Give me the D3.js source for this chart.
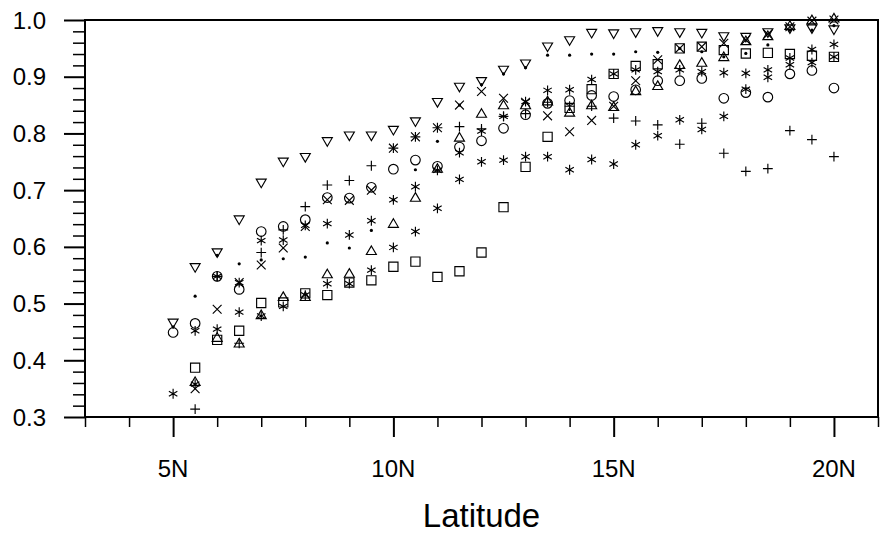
<!DOCTYPE html>
<html>
<head>
<meta charset="utf-8">
<script src="https://cdn.jsdelivr.net/npm/d3@7"></script>
<style>
  html, body { margin: 0; padding: 0; background: #fff; }
  svg { display: block; }
  text { font-family: "Liberation Sans", Arial, Helvetica, sans-serif; fill: #000; }
</style>
</head>
<body>
<svg id="chart" width="882" height="534"></svg>
<script>
// ---------------- data ----------------
const latitudes = [5,5.5,6,6.5,7,7.5,8,8.5,9,9.5,10,10.5,11,11.5,12,12.5,13,13.5,14,14.5,15,15.5,16,16.5,17,17.5,18,18.5,19,19.5,20];

const triDown = [0.466,0.564,0.590,0.648,0.713,0.750,0.758,0.786,0.796,0.796,0.806,0.821,0.855,0.882,0.892,0.912,0.923,0.953,0.964,0.977,0.976,0.978,0.980,0.978,0.977,0.971,0.970,0.978,0.985,0.985,0.983];
const dots    = [0.459,0.513,0.585,0.570,0.577,0.579,0.582,0.607,0.598,0.629,0.683,0.736,0.786,0.850,0.886,0.905,0.916,0.938,0.938,0.940,0.940,0.944,0.943,0.950,0.944,0.935,0.941,0.956,0.982,0.982,0.990];
const plusS   = [null,0.314,0.548,0.430,0.590,0.630,0.671,0.709,0.717,0.743,0.774,0.794,0.810,0.812,0.808,0.830,0.835,0.855,0.848,0.848,0.827,0.822,0.815,0.781,0.818,0.765,0.733,0.738,0.805,0.789,0.759];
const crossS  = [null,0.350,0.490,0.537,0.568,0.598,0.636,0.683,0.682,0.700,0.774,0.794,0.810,0.850,0.874,0.862,0.855,0.831,0.803,0.823,0.848,0.893,0.930,0.950,0.953,0.959,0.965,0.975,0.988,0.998,1.000];
const asterA  = [null,0.452,0.548,0.537,0.611,0.612,0.638,0.641,0.621,0.646,0.683,0.706,0.735,0.766,0.804,0.830,0.856,0.876,0.877,0.895,0.905,0.912,0.909,0.912,0.909,0.907,0.906,0.912,0.933,0.948,0.957];
const asterB  = [0.341,0.358,0.455,0.485,0.478,0.495,0.515,0.535,0.535,0.559,0.599,0.627,0.668,0.719,0.750,0.753,0.759,0.759,0.736,0.754,0.746,0.780,0.796,0.824,0.807,0.830,0.878,0.899,0.921,0.925,0.935];
const circleS = [0.449,0.465,0.548,0.525,0.627,0.636,0.648,0.687,0.686,0.705,0.737,0.753,0.742,0.776,0.787,0.809,0.833,0.853,0.858,0.867,0.865,0.877,0.893,0.893,0.897,0.862,0.872,0.864,0.905,0.911,0.880];
const triUp   = [null,0.362,0.440,0.430,0.480,0.512,0.512,0.552,0.553,0.593,0.641,0.687,0.738,0.793,0.835,0.850,0.850,0.857,0.837,0.850,0.847,0.875,0.884,0.921,0.925,0.935,0.963,0.972,0.990,1.000,1.003];
const squareS = [null,0.387,0.436,0.452,0.501,0.502,0.518,0.515,0.537,0.541,0.565,0.574,0.547,0.557,0.590,0.670,0.741,0.794,0.845,0.878,0.905,0.919,0.922,0.950,0.953,0.947,0.941,0.942,0.940,0.937,0.935];

const xMajorTicks = [5,10,15,20];
const xMinorTicks = [3,4,6,7,8,9,11,12,13,14,16,17,18,19,21];
const yMajorTicks = [0.3,0.4,0.5,0.6,0.7,0.8,0.9,1.0];
const yMinorTicks = d3.range(0.32, 0.999, 0.02).filter(v => Math.abs(v*10 - Math.round(v*10)) > 1e-6);
const xLabel = "Latitude";

const seriesList = [
  {type: "triDown", values: triDown},
  {type: "dot",     values: dots},
  {type: "plus",    values: plusS},
  {type: "cross",   values: crossS},
  {type: "aster",   values: asterA},
  {type: "aster",   values: asterB},
  {type: "circle",  values: circleS},
  {type: "triUp",   values: triUp},
  {type: "square",  values: squareS}
];

// ---------------- layout ----------------
const svg = d3.select("#chart");
const x = d3.scaleLinear().domain([3, 21]).range([85, 878]);
const y = d3.scaleLinear().domain([0.3, 1.0]).range([417, 20]);

function markerPath(type) {
  const p = d3.path();
  if (type === "circle") { p.moveTo(4.8, 0); p.arc(0, 0, 4.8, 0, 2*Math.PI); }
  else if (type === "square") { p.rect(-4.6, -4.6, 9.2, 9.2); }
  else if (type === "triUp") { p.moveTo(0, -4.9); p.lineTo(5.0, 3.7); p.lineTo(-5.0, 3.7); p.closePath(); }
  else if (type === "triDown") { p.moveTo(0, 4.9); p.lineTo(5.0, -3.7); p.lineTo(-5.0, -3.7); p.closePath(); }
  else if (type === "plus") { p.moveTo(-4.9, 0); p.lineTo(4.9, 0); p.moveTo(0, -4.9); p.lineTo(0, 4.9); }
  else if (type === "cross") { p.moveTo(-4.4, -4.4); p.lineTo(4.4, 4.4); p.moveTo(-4.4, 4.4); p.lineTo(4.4, -4.4); }
  else if (type === "aster") {
    const r = 4.9;
    for (const a of [90, 30, 150]) {
      const t = a * Math.PI / 180;
      p.moveTo(r*Math.cos(t), -r*Math.sin(t));
      p.lineTo(-r*Math.cos(t), r*Math.sin(t));
    }
  }
  return p.toString();
}

// ---------------- markers ----------------
const gMarks = svg.append("g");
seriesList.forEach(s => {
  const pts = latitudes.map((lat, i) => ({lat, v: s.values[i]})).filter(d => d.v != null);
  if (s.type === "dot") {
    gMarks.append("g").selectAll("circle").data(pts).join("circle")
      .attr("cx", d => x(d.lat)).attr("cy", d => y(d.v)).attr("r", 1.6).attr("fill", "#000");
  } else {
    gMarks.append("g").selectAll("path").data(pts).join("path")
      .attr("transform", d => `translate(${x(d.lat)},${y(d.v)})`)
      .attr("d", markerPath(s.type))
      .attr("fill", "none").attr("stroke", "#000").attr("stroke-width", 1.15);
  }
});

// ---------------- axes ----------------
const axG = svg.append("g");
function styleAxis(g, w) {
  g.select(".domain").remove();
  g.selectAll("text").remove();
  g.selectAll("line").attr("stroke", "#000").attr("stroke-width", w);
}
axG.append("g").attr("transform", "translate(0,417)")
  .call(d3.axisBottom(x).tickValues(xMajorTicks).tickSize(20).tickFormat(""))
  .call(g => styleAxis(g, 2));
axG.append("g").attr("transform", "translate(0,417)")
  .call(d3.axisBottom(x).tickValues(xMinorTicks).tickSize(10).tickFormat(""))
  .call(g => styleAxis(g, 1.5));
axG.append("g").attr("transform", "translate(85,0)")
  .call(d3.axisLeft(y).tickValues(yMajorTicks).tickSize(21).tickFormat(""))
  .call(g => styleAxis(g, 2));
axG.append("g").attr("transform", "translate(85,0)")
  .call(d3.axisLeft(y).tickValues(yMinorTicks).tickSize(12).tickFormat(""))
  .call(g => styleAxis(g, 1.5));

// frame
svg.append("rect").attr("x", x(3)).attr("y", y(1.0)).attr("width", x(21) - x(3)).attr("height", y(0.3) - y(1.0))
  .attr("fill", "none").attr("stroke", "#000").attr("stroke-width", 2);

// tick labels
svg.append("g").selectAll("text").data(xMajorTicks).join("text")
  .attr("x", d => x(d)).attr("y", 477).attr("text-anchor", "middle")
  .attr("font-size", 24).text(d => d + "N");
svg.append("g").selectAll("text").data(yMajorTicks).join("text")
  .attr("x", 46).attr("y", d => y(d) + 8.5).attr("text-anchor", "end")
  .attr("font-size", 24).text(d => d3.format(".1f")(d));

// axis title
svg.append("text").attr("x", (x(3) + x(21)) / 2).attr("y", 527).attr("text-anchor", "middle")
  .attr("font-size", 33).text(xLabel);
</script>
</body>
</html>
